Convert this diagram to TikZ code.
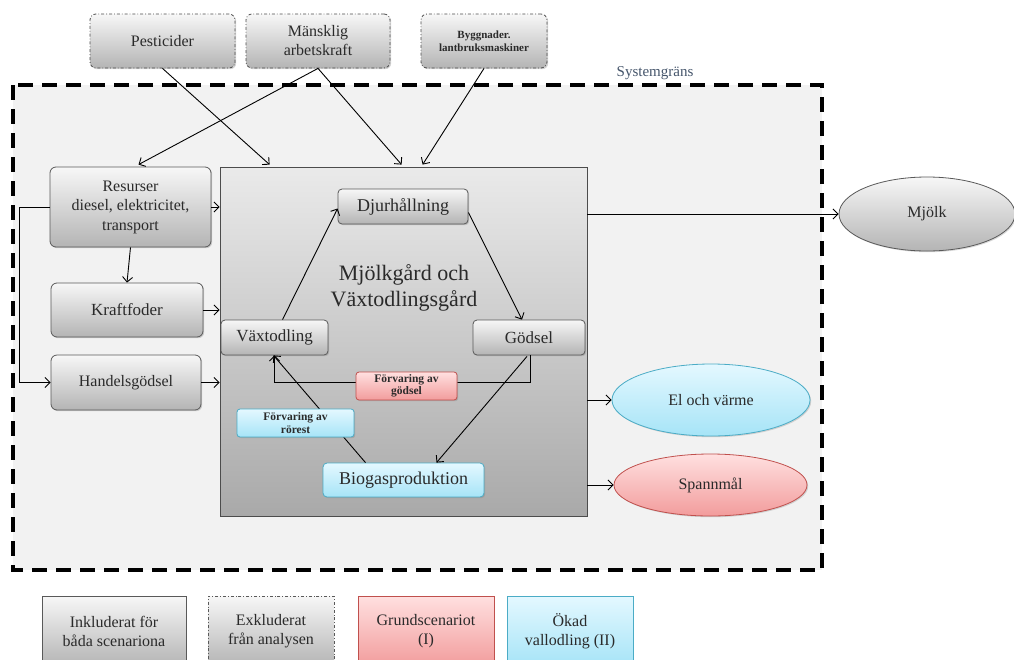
\documentclass[tikz,border=0pt]{standalone}
\usepackage{fontspec}
\setmainfont{Liberation Serif}
\usetikzlibrary{arrows.meta,calc,shadows,shapes.geometric}

\definecolor{boxtop}{HTML}{F7F7F7}
\definecolor{boxbot}{HTML}{B4B4B4}
\definecolor{farmtop}{HTML}{EAEAEA}
\definecolor{farmbot}{HTML}{A9A9A9}
\definecolor{bluetop}{HTML}{E4F8FF}
\definecolor{bluebot}{HTML}{A6E4F7}
\definecolor{blueline}{HTML}{4BACC6}
\definecolor{redtop}{HTML}{FFE0E0}
\definecolor{redbot}{HTML}{F29C9C}
\definecolor{redline}{HTML}{C0504D}
\definecolor{txt}{HTML}{2A2A2A}
\definecolor{bordertxt}{HTML}{44546A}
\definecolor{areafill}{HTML}{F2F2F2}

\tikzset{
  fs/.style 2 args={font=\fontsize{#1}{#2}\selectfont},
  flowbox/.style={draw=black!65, line width=0.8pt, rounded corners=6pt,
    top color=boxtop, bottom color=boxbot, align=center, inner sep=0pt,
    text=txt, drop shadow={shadow xshift=1.2pt, shadow yshift=-1.2pt, opacity=0.35}},
  excluded/.style={flowbox, dash dot, draw=black!70},
  legendbox/.style={draw=black!65, line width=0.8pt, align=center, inner sep=0pt,
    text=txt, fs={16}{19}},
  bluestyle/.style={draw=blueline, top color=bluetop, bottom color=bluebot},
  redstyle/.style={draw=redline, top color=redtop, bottom color=redbot},
  product/.style={ellipse, draw=black!65, line width=0.8pt, inner sep=0pt,
    top color=boxtop, bottom color=boxbot, text=txt, fs={16}{19},
    drop shadow={shadow xshift=1.2pt, shadow yshift=-1.2pt, opacity=0.3}},
  flow/.style={draw=black, line width=0.9pt, -{Straight Barb[length=5pt,width=10pt,line width=0.9pt]}},
}

\begin{document}
\begin{tikzpicture}[x=1pt,y=-1pt]
\useasboundingbox (0,0) rectangle (1014,659);

% system boundary
\draw[fill=areafill, line width=3.6pt, dash pattern=on 15pt off 9pt]
  (13,85) rectangle (822,570);
\node[anchor=south, text=bordertxt, fs={15}{17}] (grans) at (655,83) {Systemgräns};

% inputs excluded from the analysis
\node[excluded, minimum width=145pt, minimum height=54pt, fs={16}{19}] (pest) at (162.5,41) {Pesticider};
\node[excluded, minimum width=144pt, minimum height=54pt, fs={16}{19}] (mansk) at (318,41) {Mänsklig\\arbetskraft};
\node[excluded, minimum width=126pt, minimum height=54pt, font=\bfseries\fontsize{11}{13}\selectfont] (bygg) at (484,41) {Byggnader.\\lantbruksmaskiner};

% purchased inputs
\node[flowbox, minimum width=161pt, minimum height=80pt, fs={16}{19.5}] (res) at (130.5,207) {Resurser\\diesel, elektricitet,\\transport};
\node[flowbox, minimum width=152pt, minimum height=54pt, fs={17}{20}] (kraft) at (127,310) {Kraftfoder};
\node[flowbox, minimum width=150pt, minimum height=55pt, fs={16}{19}] (handel) at (126,382.5) {Handelsgödsel};

% farm
\node[draw=black!70, line width=0.8pt, top color=farmtop, bottom color=farmbot,
  minimum width=367pt, minimum height=349pt, inner sep=0pt] (farm) at (403.5,341.5) {};
\node[text=txt, align=center, fs={22}{26}] (title) at (404,288) {Mjölkgård och\\Växtodlingsgård};

\node[flowbox, rounded corners=4pt, minimum width=130pt, minimum height=35pt, fs={18}{20}] (djur) at (403,206.5) {Djurhållning};
\node[flowbox, rounded corners=4pt, minimum width=107pt, minimum height=35pt, fs={17}{20}] (vax) at (274.5,337.5) {Växtodling};
\node[flowbox, rounded corners=4pt, minimum width=112pt, minimum height=35pt, fs={17}{20}] (godsel) at (529,337.5) {Gödsel};
\node[flowbox, bluestyle, rounded corners=4pt, minimum width=161pt, minimum height=34pt, fs={18}{20}] (biogas) at (403.5,480) {Biogasproduktion};

% products
\node[product, minimum width=176pt, minimum height=74pt] (mjolk) at (927,214) {Mjölk};
\node[product, bluestyle, minimum width=198pt, minimum height=72pt] (el) at (711,400) {El och värme};
\node[product, redstyle, minimum width=193pt, minimum height=62pt] (spann) at (710.5,485) {Spannmål};

% flows into the system
\draw[flow] (pest.south) -- ($(farm.north west)+(50,-2)$);
\draw[flow] (mansk.south) -- ($(res.north)+(8,-2)$);
\draw[flow] (mansk.south) -- ($(farm.north west)+(182,-2)$);
\draw[flow] (bygg.south) -- ($(farm.north west)+(203,-2)$);
\draw[flow] (res.east) -- (farm.west |- res.east);
\draw[flow] (res.west) -- ++(-30,0) |- (handel.west);
\draw[flow] (res.south) -- (kraft.north);
\draw[flow] (kraft.east) -- (farm.west |- kraft.east);
\draw[flow] (handel.east) -- (farm.west |- handel.east);

% flows out of the system
\draw[flow] (farm.east |- mjolk.west) -- (mjolk.west);
\draw[flow] (farm.east |- el.west) -- (el.west);
\draw[flow] (farm.east |- spann.west) -- (spann.west);

% internal cycle
\draw[flow] ($(vax.north)+(8,0)$) -- ($(djur.west)+(0,2)$);
\draw[flow] ($(djur.east)+(0,6)$) -- ($(godsel.north)+(-7,0)$);
\draw[flow] ($(godsel.south)+(1,0)$) -- ++(0,27) -| (vax.south);
\draw[flow] ($(godsel.south)+(-2,1)$) -- ($(biogas.north)+(33,0)$);
\draw[flow] ($(biogas.north)+(-38,0)$) -- ($(vax.south)+(-1,0)$);

% storage steps drawn over the flows
\node[flowbox, redstyle, rounded corners=3pt, minimum width=101pt, minimum height=28pt,
  font=\bfseries\fontsize{11.5}{12.5}\selectfont] (fgods) at (406.5,386) {Förvaring av\\gödsel};
\node[flowbox, bluestyle, rounded corners=3pt, minimum width=117pt, minimum height=28pt,
  font=\bfseries\fontsize{11.5}{12.5}\selectfont] (frorest) at (295.5,423) {Förvaring av\\rörest};

% legend
\node[legendbox, top color=boxtop, bottom color=boxbot, minimum width=144pt, minimum height=70pt] (leg1) at (114,631) {Inkluderat för\\båda scenariona};
\node[legendbox, dash dot, top color=boxtop, bottom color=boxbot, minimum width=126pt, minimum height=70pt] (leg2) at (271,631) {Exkluderat\\från analysen};
\node[legendbox, redstyle, minimum width=136pt, minimum height=70pt] (leg3) at (426,631) {Grundscenariot\\(I)};
\node[legendbox, bluestyle, minimum width=126pt, minimum height=70pt] (leg4) at (570,631) {Ökad\\vallodling (II)};
\end{tikzpicture}
\end{document}
